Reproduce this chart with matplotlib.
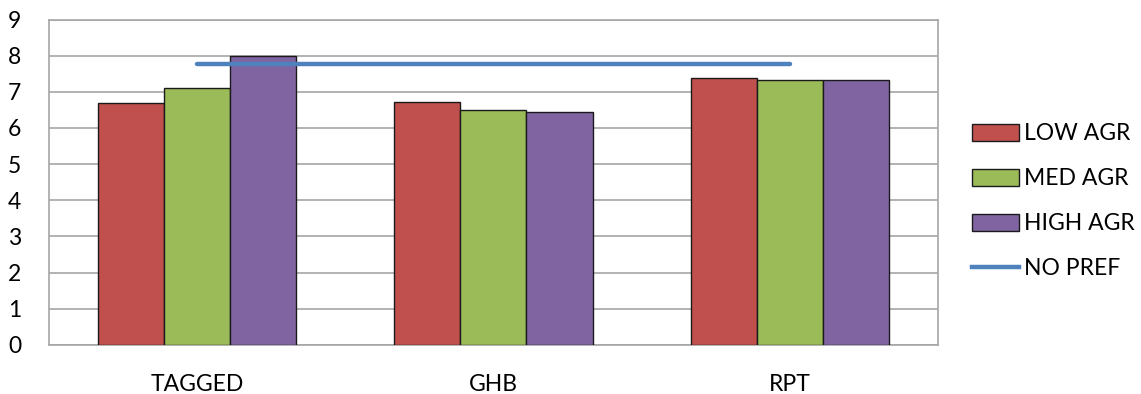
import numpy as np
import matplotlib.pyplot as plt
from matplotlib.lines import Line2D
from matplotlib.patches import Patch

plt.rcParams['font.family'] = ['Lato', 'DejaVu Sans']

categories = ["TAGGED", "GHB", "RPT"]
low_agr = [6.68, 6.73, 7.39]
med_agr = [7.11, 6.49, 7.33]
high_agr = [8.0, 6.43, 7.33]
no_pref = [7.76, 7.76, 7.76]

series = [("LOW AGR", low_agr, "#C0504D"),
          ("MED AGR", med_agr, "#9BBB59"),
          ("HIGH AGR", high_agr, "#8064A2")]

fig = plt.figure(figsize=(11.41, 3.94), dpi=100)
ax = fig.add_axes([0.0429, 0.1244, 0.7791, 0.8261])

x = np.arange(len(categories))
width = 0.223
for i, (name, vals, color) in enumerate(series):
    ax.bar(x + (i - 1) * width, vals, width, color=color,
           edgecolor="#1a1a1a", linewidth=1.0, label=name, zorder=3)

ax.plot(x, no_pref, color="#4F81BD", linewidth=3.2, solid_capstyle="round",
        label="NO PREF", zorder=4)

ax.set_xlim(-0.5, len(categories) - 0.5)
ax.set_ylim(0, 9)
ax.set_yticks(range(0, 10))
ax.set_xticks(x)
ax.set_xticklabels(categories)
ax.tick_params(axis="both", length=0, labelsize=16.5, colors="#000000")
ax.tick_params(axis="y", pad=20)
ax.tick_params(axis="x", pad=21)
ax.yaxis.grid(True, color="#a6a6a6", linewidth=1.2, zorder=0)
ax.set_axisbelow(True)
for side in ["left", "right", "top", "bottom"]:
    ax.spines[side].set_color("#a6a6a6")
    ax.spines[side].set_linewidth(1.2)

handles = [Patch(facecolor=c, edgecolor="#1a1a1a", linewidth=1.0) for _, _, c in series]
handles.append(Line2D([0], [0], color="#4F81BD", linewidth=3.2))
labels = [s[0] for s in series] + ["NO PREF"]
fig.legend(handles, labels, loc="center left", bbox_to_anchor=(0.852, 0.489),
           frameon=False, fontsize=16.5, handlelength=2.05, handleheight=0.8,
           handletextpad=0.2, labelspacing=1.05, borderaxespad=0, borderpad=0)

fig.savefig("out.png", dpi=100)
